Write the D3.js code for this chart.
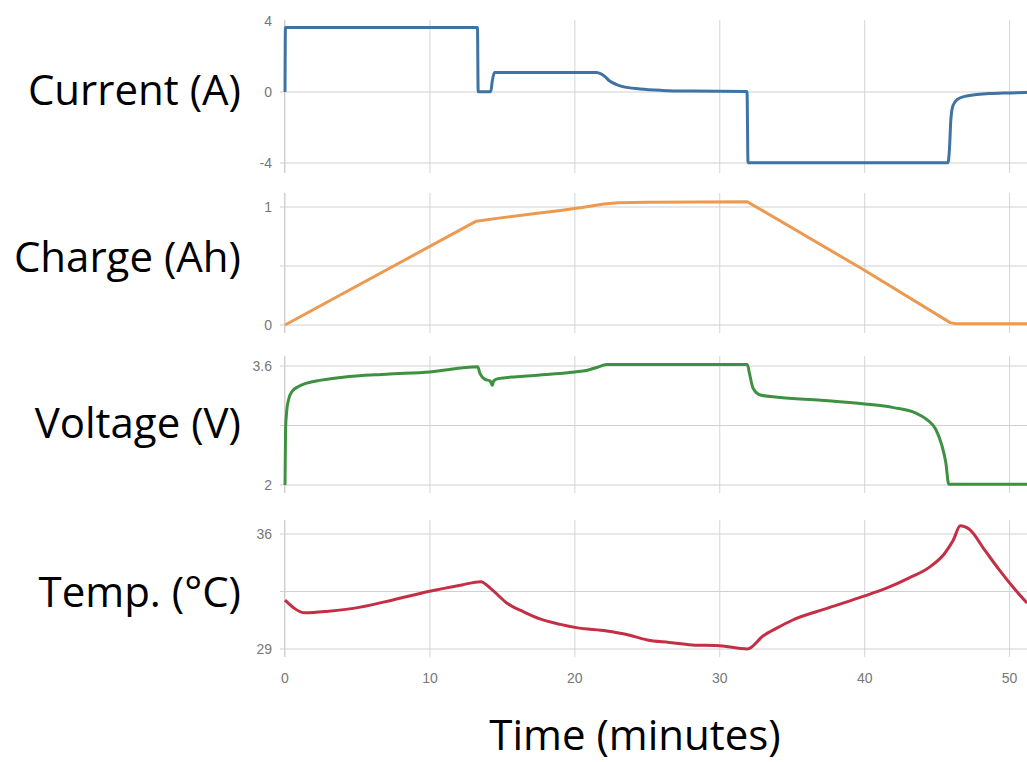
<!DOCTYPE html>
<html lang="en">

<head>
    <meta charset="UTF-8" />
    <title>Battery cycle</title>
    <script src="https://d3js.org/d3.v7.min.js"></script>
    <style>
        body {
            margin: 0;
            background: #fff;
        }

        .tick-label {
            font-family: "Liberation Sans", Arial, sans-serif;
            font-size: 14px;
            fill: #777;
        }

        .panel-label {
            font-family: "Open Sans", sans-serif;
            font-size: 42px;
            fill: #000;
        }
    </style>
</head>

<body>
    <div id="chart"></div>

    <script>
        const width = 1027;
        const height = 762;

        // time axis
        const timeTicks = [0, 10, 20, 30, 40, 50];
        const timeMax = 51.2;

        // current (A)
        const currentTime = [0, 0.03, 13.28, 13.33, 14.2, 14.3, 14.45, 21.5, 21.8, 22.1, 22.4, 22.8, 23.3, 24.5, 26, 28, 31.88, 31.95, 45.75, 45.85, 45.95, 46.1, 46.4, 46.9, 47.6, 48.6, 50, 51.2];
        const currentValues = [0, 3.63, 3.63, 0.02, 0.02, 0.6, 1.1, 1.1, 1.02, 0.85, 0.62, 0.45, 0.3, 0.17, 0.09, 0.05, 0.03, -3.98, -3.98, -3.2, -1.5, -0.75, -0.42, -0.25, -0.15, -0.09, -0.05, -0.02];

        // charge (Ah)
        const chargeTime = [0, 13.2, 15, 17, 19, 20.5, 22, 23, 25, 31.9, 39.9, 45.9, 46.3, 51.2];
        const chargeValues = [0, 0.88, 0.91, 0.94, 0.97, 0.995, 1.025, 1.035, 1.04, 1.045, 0.47, 0.02, 0.01, 0.01];

        // voltage (V)
        const voltageTime = [0, 0.04, 0.12, 0.25, 0.5, 0.9, 1.5, 2.5, 4, 7, 10, 13.3, 13.45, 13.8, 14.15, 14.3, 14.4, 14.7, 17, 20, 20.8, 21.5, 22.2, 31.9, 32.05, 32.3, 32.8, 34, 37, 40, 42, 43.5, 44.3, 44.9, 45.3, 45.6, 45.8, 51.2];
        const voltageValues = [2.0, 2.75, 3.0, 3.15, 3.26, 3.32, 3.37, 3.41, 3.45, 3.49, 3.52, 3.59, 3.5, 3.42, 3.4, 3.34, 3.4, 3.43, 3.47, 3.52, 3.54, 3.58, 3.62, 3.62, 3.5, 3.3, 3.21, 3.18, 3.14, 3.09, 3.04, 2.97, 2.88, 2.75, 2.55, 2.3, 2.01, 2.01];

        // temperature (°C)
        const tempTime = [0, 1.4, 3, 5.2, 7.5, 9.9, 12.2, 13.5, 14.3, 15.3, 16.5, 17.7, 19, 20.1, 22.2, 23.5, 25, 26.5, 28.1, 30, 31.9, 33, 34, 35, 37.5, 39.9, 41.5, 43, 44.5, 45.5, 46.1, 46.6, 47.2, 48.3, 49.3, 50.3, 51.2];
        const tempValues = [31.98, 31.2, 31.3, 31.55, 32.0, 32.5, 32.9, 33.1, 32.6, 31.8, 31.25, 30.8, 30.5, 30.3, 30.1, 29.9, 29.55, 29.4, 29.25, 29.2, 29.0, 29.8, 30.3, 30.75, 31.5, 32.2, 32.7, 33.3, 34.0, 34.8, 35.6, 36.5, 36.3, 35.0, 33.8, 32.7, 31.8];

        const labels = ["Current (A)", "Charge (Ah)", "Voltage (V)", "Temp. (°C)"];
        const yTicks = [[-4, 0, 4], [0, 1], [2, 3.6], [29, 36]];
        const yGrid = [[-4, 0], [0, 0.5, 1], [2, 2.8, 3.6], [29, 32.5, 36]];
        const xLabel = "Time (minutes)";

        const panels = [
            { t: currentTime, v: currentValues, domain: [-4, 4], range: [163, 21], box: [20, 173], color: "#3f73a3", label: 105, curve: d3.curveMonotoneX },
            { t: chargeTime, v: chargeValues, domain: [0, 1], range: [325, 207], box: [193, 333], color: "#ec9a52", label: 272, curve: d3.curveLinear },
            { t: voltageTime, v: voltageValues, domain: [2, 3.6], range: [485, 366], box: [356, 493], color: "#3f9142", label: 438, curve: d3.curveMonotoneX },
            { t: tempTime, v: tempValues, domain: [29, 36], range: [649, 534], box: [520, 657], color: "#c42f45", label: 607, curve: d3.curveMonotoneX }
        ];

        const x = d3.scaleLinear()
            .domain([0, timeMax])
            .range([285, 1027]);

        const svg = d3.select("#chart")
            .append("svg")
            .attr("width", width)
            .attr("height", height);

        panels.forEach((p, i) => {
            const y = d3.scaleLinear().domain(p.domain).range(p.range);
            const g = svg.append("g");

            // vertical grid
            g.selectAll(".vgrid")
                .data(timeTicks)
                .join("line")
                .attr("x1", d => x(d)).attr("x2", d => x(d))
                .attr("y1", p.box[0]).attr("y2", p.box[1])
                .attr("stroke", "#d4d4d4")
                .attr("stroke-width", 1);

            // horizontal grid
            g.selectAll(".hgrid")
                .data(yGrid[i])
                .join("line")
                .attr("x1", x(0) - 5).attr("x2", width)
                .attr("y1", d => y(d)).attr("y2", d => y(d))
                .attr("stroke", "#d0d0d0")
                .attr("stroke-width", 1);

            // left axis line
            g.append("line")
                .attr("x1", x(0) - 0.5).attr("x2", x(0) - 0.5)
                .attr("y1", p.box[0]).attr("y2", p.box[1])
                .attr("stroke", "#cfcfcf");

            g.selectAll(".ytick")
                .data(yTicks[i])
                .join("text")
                .attr("class", "tick-label")
                .attr("x", 272)
                .attr("y", d => y(d))
                .attr("dy", "0.35em")
                .attr("text-anchor", "end")
                .text(d => d);

            const line = d3.line()
                .x(d => x(d[0]))
                .y(d => y(d[1]))
                .curve(p.curve);

            g.append("path")
                .datum(d3.zip(p.t, p.v))
                .attr("d", line)
                .attr("fill", "none")
                .attr("stroke", p.color)
                .attr("stroke-width", 3)
                .attr("stroke-linejoin", "round");

            svg.append("text")
                .attr("class", "panel-label")
                .attr("x", 241)
                .attr("y", p.label)
                .attr("text-anchor", "end")
                .text(labels[i]);
        });

        svg.selectAll(".xtick")
            .data(timeTicks)
            .join("text")
            .attr("class", "tick-label")
            .attr("x", d => x(d))
            .attr("y", 683)
            .attr("text-anchor", "middle")
            .text(d => d);

        svg.append("text")
            .attr("class", "panel-label")
            .attr("x", 635)
            .attr("y", 750)
            .attr("text-anchor", "middle")
            .text(xLabel);
    </script>
</body>

</html>
